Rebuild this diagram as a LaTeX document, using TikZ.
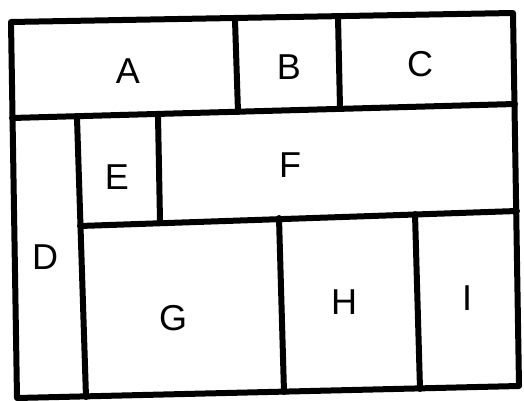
\documentclass[tikz,border=0pt]{standalone}
\usepackage{fontspec}
\setmainfont{Liberation Sans}
\begin{document}
\begin{tikzpicture}[x=1pt,y=-1pt,
  wall/.style={line width=6pt,line cap=round,line join=round,black},
  lbl/.style={font=\fontsize{36}{36}\selectfont,inner sep=0pt}]
\useasboundingbox (0,0) rectangle (524,401);
% outer corners
\coordinate (tl) at (11,22);
\coordinate (tr) at (513,13);
\coordinate (br) at (519,386);
\coordinate (bl) at (17,398);
\draw[wall] (tl) -- (tr) -- (br) -- (bl) -- cycle;
% row 1 bottom
\coordinate (r1l) at (12,118);
\coordinate (r1r) at (515,104);
\draw[wall] (r1l) -- (r1r);
% A|B and B|C dividers
\coordinate (ab1) at (235,20);
\coordinate (ab2) at (238,112);
\draw[wall] (ab1) -- (ab2);
\coordinate (bc1) at (338,17);
\coordinate (bc2) at (340,108);
\draw[wall] (bc1) -- (bc2);
% D | rest
\coordinate (d1) at (77,118);
\coordinate (d2) at (86,397);
\draw[wall] (d1) -- (d2);
% E|F
\coordinate (ef1) at (158,116);
\coordinate (ef2) at (160,221);
\draw[wall] (ef1) -- (ef2);
% row E/F bottom
\coordinate (r2l) at (80,226);
\coordinate (r2r) at (517,211);
\draw[wall] (r2l) -- (r2r);
% G|H and H|I
\coordinate (gh1) at (279,218);
\coordinate (gh2) at (284,392);
\draw[wall] (gh1) -- (gh2);
\coordinate (hi1) at (415,214);
\coordinate (hi2) at (420,389);
\draw[wall] (hi1) -- (hi2);
% labels
\node[lbl] (A) at (128,71) {A};
\node[lbl] (B) at (289,67) {B};
\node[lbl] (C) at (420,64) {C};
\node[lbl] (D) at (45,257) {D};
\node[lbl] (E) at (117,177) {E};
\node[lbl] (F) at (290,165) {F};
\node[lbl] (G) at (173,318) {G};
\node[lbl] (H) at (344,302) {H};
\node[lbl] (I) at (467,298) {I};
\end{tikzpicture}
\end{document}
